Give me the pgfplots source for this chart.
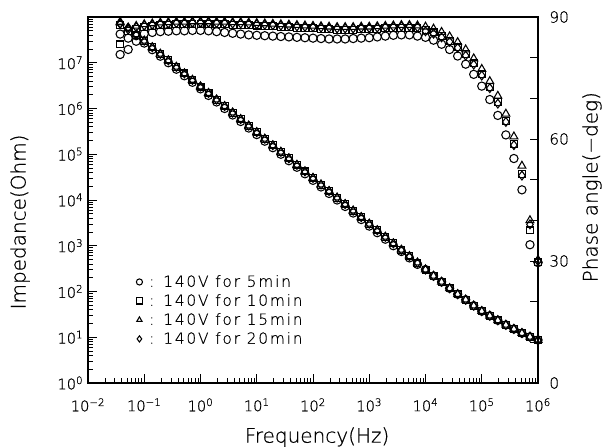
\documentclass[border=0pt]{standalone}
\usepackage{pgfplots}
\pgfplotsset{compat=1.18}
\usepackage{pgfplotstable}
\usepackage{fontspec}
\IfFontExistsTF{DejaVu Sans ExtraLight}{%
  \setmainfont{DejaVu Sans ExtraLight}[FakeBold=0.6]%
  \newfontfamily\legfont{DejaVu Sans ExtraLight}[LetterSpace=12,FakeBold=0.4]}{%
  \setmainfont{DejaVu Sans}%
  \newfontfamily\legfont{DejaVu Sans}[LetterSpace=12]}

% f, |Z| (z1..z4) and phase (p1..p4) for 5, 10, 15, 20 min
\pgfplotstableread{
f z1 z2 z3 z4 p1 p2 p3 p4
3.728e-2 1.514e7 2.512e7 7.586e7 7.079e7 85.8 88.0 88.8 88.4
5.179e-2 1.950e7 5.012e7 5.754e7 5.888e7 84.8 86.5 87.2 86.9
7.197e-2 2.951e7 3.981e7 4.169e7 4.169e7 85.4 87.1 87.8 87.5
1e-1 2.69e7 3.020e7 3.020e7 3.020e7 85.9 87.6 88.2 87.9
1.389e-1 1.93e7 2.173e7 2.173e7 2.173e7 86.2 87.8 88.4 88.1
1.931e-1 1.39e7 1.564e7 1.564e7 1.564e7 86.4 88.0 88.6 88.3
2.683e-1 1.00e7 1.125e7 1.125e7 1.125e7 86.5 88.1 88.7 88.4
3.728e-1 7.22e6 8.106e6 8.106e6 8.106e6 86.6 88.2 88.8 88.5
5.179e-1 5.19e6 5.834e6 5.834e6 5.834e6 86.6 88.2 88.8 88.5
7.197e-1 3.74e6 4.198e6 4.198e6 4.198e6 86.7 88.3 88.9 88.6
1 2.69e6 3.020e6 3.020e6 3.020e6 86.7 88.3 88.9 88.6
1.389 1.93e6 2.173e6 2.173e6 2.173e6 86.6 88.3 88.9 88.6
1.931 1.39e6 1.564e6 1.564e6 1.564e6 86.4 88.2 88.8 88.5
2.683 1.00e6 1.125e6 1.125e6 1.125e6 86.2 88.2 88.8 88.5
3.728 7.22e5 8.106e5 8.106e5 8.106e5 86.0 88.1 88.7 88.4
5.179 5.19e5 5.834e5 5.834e5 5.834e5 85.8 88.1 88.7 88.4
7.197 3.74e5 4.198e5 4.198e5 4.198e5 85.6 88.0 88.6 88.3
10 2.69e5 3.020e5 3.020e5 3.020e5 85.5 87.9 88.5 88.2
13.89 1.93e5 2.173e5 2.173e5 2.173e5 85.4 87.8 88.4 88.1
19.31 1.39e5 1.564e5 1.564e5 1.564e5 85.3 87.7 88.3 88.0
26.83 1.00e5 1.125e5 1.125e5 1.125e5 85.2 87.6 88.2 87.9
37.28 7.22e4 8.106e4 8.106e4 8.106e4 85.1 87.5 88.1 87.8
51.79 5.19e4 5.834e4 5.834e4 5.834e4 85.0 87.4 88.0 87.7
71.97 3.74e4 4.198e4 4.198e4 4.198e4 84.9 87.3 87.9 87.6
100 2.69e4 3.020e4 3.020e4 3.020e4 84.8 87.2 87.8 87.5
138.9 1.93e4 2.173e4 2.173e4 2.173e4 84.7 87.1 87.7 87.4
193.1 1.39e4 1.564e4 1.564e4 1.564e4 84.6 87.0 87.6 87.3
268.3 1.00e4 1.125e4 1.125e4 1.125e4 84.6 86.9 87.5 87.2
372.8 7.22e3 8.106e3 8.106e3 8.106e3 84.6 86.9 87.5 87.2
517.9 5.19e3 5.834e3 5.834e3 5.834e3 84.7 86.9 87.5 87.2
719.7 3.74e3 4.198e3 4.198e3 4.198e3 84.8 87.0 87.6 87.3
1000 2.69e3 3.020e3 3.020e3 3.020e3 84.9 87.0 87.6 87.3
1389 1.93e3 2.173e3 2.173e3 2.173e3 85.1 87.1 87.7 87.4
1931 1.39e3 1.564e3 1.564e3 1.564e3 85.3 87.2 87.8 87.5
2683 1.00e3 1.125e3 1.125e3 1.125e3 85.5 87.3 87.9 87.6
3728 7.48e2 8.128e2 8.128e2 8.128e2 85.6 87.4 88.0 87.7
5179 5.42e2 5.888e2 5.888e2 5.888e2 85.6 87.4 88.0 87.7
7197 3.92e2 4.266e2 4.266e2 4.266e2 85.3 87.3 87.9 87.5
1e4 3.020e2 3.020e2 3.020e2 3.020e2 85.0 86.8 87.6 86.5
1.389e4 2.188e2 2.188e2 2.188e2 2.188e2 84.3 86.2 87.1 85.9
1.931e4 1.622e2 1.622e2 1.622e2 1.622e2 83.3 85.3 86.3 85.0
2.683e4 1.175e2 1.175e2 1.175e2 1.175e2 82.0 84.2 85.2 83.9
3.728e4 8.710e1 8.710e1 8.710e1 8.710e1 80.4 82.7 83.8 82.4
5.179e4 6.607e1 6.607e1 6.607e1 6.607e1 78.4 80.8 82.0 80.5
7.197e4 4.898e1 4.898e1 4.898e1 4.898e1 75.9 78.6 79.8 78.3
1e5 3.715e1 3.715e1 3.715e1 3.715e1 73.0 75.9 77.2 75.6
1.389e5 2.951e1 2.951e1 2.951e1 2.951e1 69.7 72.8 74.2 72.5
1.931e5 2.344e1 2.344e1 2.344e1 2.344e1 65.8 69.0 70.6 68.7
2.683e5 1.862e1 1.862e1 1.862e1 1.862e1 61.0 64.5 66.2 64.2
3.728e5 1.514e1 1.514e1 1.514e1 1.514e1 55.2 58.8 60.6 58.5
5.179e5 1.230e1 1.230e1 1.230e1 1.230e1 47.5 51.3 53.4 51.0
7.197e5 1.023e1 1.023e1 1.023e1 1.023e1 34.0 37.5 40.0 39.0
1e6 8.710e0 8.710e0 8.710e0 8.710e0 29.6 29.8 30.3 30.0
}\bode

\pgfplotsset{
  mk/.style={only marks, black, mark options={line width=0.8pt, fill=none}},
}

\begin{document}
\begin{tikzpicture}
\useasboundingbox (-66pt,-48.75pt) rectangle (387.75pt,287.25pt);
\begin{axis}[
  scale only axis, width=337.5pt, height=274.5pt,
  xmode=log, ymode=log,
  xmin=1e-2, xmax=1e6, ymin=1, ymax=1e8,
  xtick={1e-2,1e-1,1,1e1,1e2,1e3,1e4,1e5,1e6},
  xticklabels={10\textsuperscript{−2},10\textsuperscript{−1},10\textsuperscript{0},10\textsuperscript{1},10\textsuperscript{2},10\textsuperscript{3},10\textsuperscript{4},10\textsuperscript{5},10\textsuperscript{6}},
  ytick={1,1e1,1e2,1e3,1e4,1e5,1e6,1e7},
  yticklabels={10\textsuperscript{0},10\textsuperscript{1},10\textsuperscript{2},10\textsuperscript{3},10\textsuperscript{4},10\textsuperscript{5},10\textsuperscript{6},10\textsuperscript{7}},
  minor xtick={2e-2,3e-2,4e-2,5e-2,6e-2,7e-2,8e-2,9e-2,
    2e-1,3e-1,4e-1,5e-1,6e-1,7e-1,8e-1,9e-1,2,3,4,5,6,7,8,9,
    20,30,40,50,60,70,80,90,200,300,400,500,600,700,800,900,
    2e3,3e3,4e3,5e3,6e3,7e3,8e3,9e3,2e4,3e4,4e4,5e4,6e4,7e4,8e4,9e4,
    2e5,3e5,4e5,5e5,6e5,7e5,8e5,9e5},
  minor ytick={2,3,4,5,6,7,8,9,20,30,40,50,60,70,80,90,
    200,300,400,500,600,700,800,900,2e3,3e3,4e3,5e3,6e3,7e3,8e3,9e3,
    2e4,3e4,4e4,5e4,6e4,7e4,8e4,9e4,2e5,3e5,4e5,5e5,6e5,7e5,8e5,9e5,
    2e6,3e6,4e6,5e6,6e6,7e6,8e6,9e6,2e7,3e7,4e7,5e7,6e7,7e7,8e7,9e7},
  xtick pos=bottom, ytick pos=left,
  tick align=inside,
  major tick length=7pt, minor tick length=4pt,
  tick style={black, line width=0.6pt},
  axis line style={line width=0.8pt},
  tick label style={font=\fontsize{11}{13}\selectfont},
  xticklabel style={yshift=-8pt},
  xlabel={Frequency(Hz)}, ylabel={Impedance(Ohm)},
  label style={font=\fontsize{15}{18}\selectfont},
  xlabel style={at={(axis description cs:0.509,-0.148)}, anchor=center},
  ylabel style={at={(axis description cs:-0.151,0.44)}, anchor=center},
  legend style={draw=none, fill=none, at={(axis description cs:0.098,0.31)},
    anchor=north west, font=\legfont\fontsize{11.5}{13}\selectfont, row sep=0pt},
  legend cell align=left,
  legend image post style={mark size=2.3pt, line width=0.6pt},
]
\addplot[mk, mark=o, mark size=3.1pt] table[x=f, y=z1] {\bode};
\addlegendentry{\hspace{3pt}: 140V for 5min}
\addplot[mk, mark=square, mark size=2.6pt] table[x=f, y=z2] {\bode};
\addlegendentry{\hspace{3pt}: 140V for 10min}
\addplot[mk, mark=triangle, mark size=3.4pt] table[x=f, y=z3] {\bode};
\addlegendentry{\hspace{3pt}: 140V for 15min}
\addplot[mk, mark=diamond, mark size=3.3pt] table[x=f, y=z4] {\bode};
\addlegendentry{\hspace{3pt}: 140V for 20min}
\end{axis}
\begin{axis}[
  scale only axis, width=337.5pt, height=274.5pt,
  xmode=log, xmin=1e-2, xmax=1e6, ymin=0, ymax=90,
  axis x line=none, axis y line*=right,
  ytick={0,10,20,30,40,50,60,70,80,90},
  yticklabels={0,,,30,,,60,,,90},
  tick align=inside, major tick length=6pt,
  tick style={black, line width=0.6pt},
  axis line style={line width=0.8pt},
  tick label style={font=\fontsize{11.5}{13}\selectfont},
  yticklabel style={xshift=5pt},
  ylabel={Phase angle(−deg)},
  label style={font=\fontsize{15}{18}\selectfont},
  ylabel style={at={(axis description cs:1.12,0.535)}, anchor=center},
]
\addplot[mk, mark=o, mark size=3.1pt] table[x=f, y=p1] {\bode};
\addplot[mk, mark=square, mark size=2.6pt] table[x=f, y=p2] {\bode};
\addplot[mk, mark=triangle, mark size=3.4pt] table[x=f, y=p3] {\bode};
\addplot[mk, mark=diamond, mark size=3.3pt] table[x=f, y=p4] {\bode};
\end{axis}
\end{tikzpicture}
\end{document}
